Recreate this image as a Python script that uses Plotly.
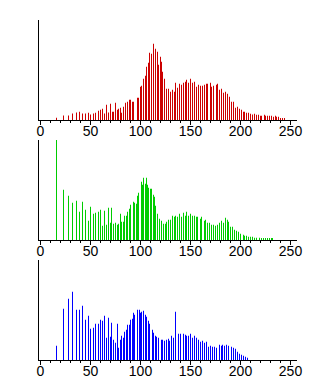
import plotly.graph_objects as go

red_x = [16, 23, 28, 32, 36, 39, 42, 45, 48, 50, 53, 55, 58, 60, 62, 64, 66, 68, 70, 72, 73, 75, 77, 78, 80, 81, 83,
         85, 87, 89, 90, 92, 93, 97, 98, 100, 101, 103, 105, 106, 108, 109, 111, 113, 115, 117, 118, 120, 121, 122, 124,
         126, 128, 130, 132, 134, 135, 137, 139, 141, 143, 145, 146, 148, 150, 152, 154, 156, 158, 160, 162, 164, 166,
         167, 170, 171, 173, 176, 177, 179, 181, 183, 185, 187, 189, 191, 193, 195, 197, 199, 201, 203, 204, 206, 208,
         210, 212, 214, 216, 218, 220, 221, 224, 225, 227, 229, 231, 233, 235, 236, 238, 240, 242, 244]
red_h = [2.3, 4.6, 4.6, 6.6, 7.6, 8.3, 6.6, 6.6, 7.3, 5.6, 6.6, 7.3, 9.3, 10.3, 11.3, 6.6, 15.3, 7.6, 16.3, 8.3, 8.3, 17.3, 10.3, 11.3, 12.3, 7.3, 13.3,
         17.3, 18.3, 20.3, 20.3, 18.3, 18.3, 22.3, 22.3, 33.3, 34.3, 41.3, 44.3, 53.3, 57.3, 67.3, 66.3, 76.3, 71.3, 68.3, 55.3, 63.3, 58.3, 48.3, 41.3,
         31.3, 31.3, 28.3, 30.3, 28.3, 37.3, 32.3, 36.3, 35.3, 37.3, 38.3, 40.3, 37.3, 41.3, 37.3, 38.3, 33.3, 35.3, 34.3, 34.3, 35.3, 36.3,
         36.3, 37.3, 33.3, 34.3, 35.3, 36.3, 30.3, 31.3, 27.3, 28.3, 26.3, 23.3, 18.3, 18.3, 12.3, 13.3, 11.3, 10.3, 8.3, 8.3, 7.3, 7.3,
         6.3, 5.6, 6.3, 5.3, 5.3, 4.3, 4.3, 5.3, 4.3, 4.3, 4.3, 4.3, 3.3, 4.3, 3.3, 3.3, 1.3, 1.3, 1.3]

green_x = [16, 23, 28, 32, 36, 39, 42, 45, 48, 50, 53, 55, 58, 60, 62, 64, 66, 68, 70, 71, 73, 75, 77, 78, 80, 81, 83,
           84, 86, 87, 89, 90, 93, 94, 96, 97, 98, 101, 102, 103, 105, 106, 107, 108, 110, 111, 113, 114, 115, 117, 119,
           121, 123, 125, 126, 128, 130, 132, 134, 135, 137, 139, 141, 143, 145, 146, 148, 150, 152, 154, 156, 157, 160,
           161, 164, 165, 167, 169, 171, 173, 175, 177, 179, 181, 183, 185, 187, 188, 190, 192, 194, 196, 198, 200, 203,
           204, 206, 208, 210, 212, 214, 216, 219, 221, 223, 225, 227, 229, 231, 232]
green_h = [100, 50.3, 44.3, 37.3, 39.3, 28.3, 38.3, 30.3, 19.3, 33.3, 26.3, 27.3, 28.3, 30.3, 14.3, 29.3, 15.3, 32.3, 17.3, 32.3, 16.3, 17.3, 15.3, 16.3, 26.3, 18.3, 18.3,
           24.3, 24.3, 28.3, 31.3, 35.3, 38.3, 37.3, 36.3, 44.3, 47.3, 58.3, 55.3, 62.3, 56.3, 62.3, 55.3, 52.3, 51.3, 51.3, 45.3, 43.3, 34.3, 26.3, 21.3,
           19.3, 16.3, 16.3, 18.3, 20.3, 20.3, 24.3, 23.3, 24.3, 23.3, 26.3, 23.3, 27.3, 24.3, 28.3, 24.3, 26.3, 24.3, 24.3, 23.3, 23.3, 21.3,
           23.3, 19.3, 20.3, 17.3, 17.3, 15.3, 15.3, 14.3, 15.3, 17.3, 19.3, 17.3, 22.3, 20.3, 18.3, 13.3, 13.3, 10.3, 9.3, 8.3, 6.3, 5.3,
           4.3, 4.3, 3.3, 3.3, 3.3, 2.3, 2.3, 2.3, 1.3, 1.3, 1.3, 1.3, 1.3, 1.3, 1.3]

blue_x = [16, 23, 28, 32, 36, 39, 42, 45, 48, 50, 53, 55, 58, 60, 62, 64, 66, 68, 70, 71, 73, 75, 77, 78, 80, 81, 83,
          84, 86, 87, 89, 90, 92, 93, 94, 97, 99, 100, 101, 103, 105, 106, 108, 109, 112, 113, 115, 116, 118, 121, 122,
          124, 126, 128, 129, 131, 133, 135, 138, 140, 143, 145, 146, 148, 150, 152, 154, 156, 158, 160, 162, 164, 166,
          168, 170, 172, 174, 176, 179, 181, 182, 184, 186, 188, 191, 193, 195, 197, 199, 201, 203, 205, 207]
blue_h = [14.3, 51.3, 61.3, 68.3, 50.3, 50.3, 54.3, 40.3, 44.3, 31.3, 32.3, 36.3, 36.3, 40.3, 39.3, 44.3, 22.3, 42.3, 23.3, 37.3, 20.3, 17.3, 36.3, 12.3, 20.3, 24.3, 22.3,
          28.3, 30.3, 35.3, 35.3, 40.3, 41.3, 47.3, 45.3, 50.3, 50.3, 47.3, 48.3, 49.3, 45.3, 43.3, 39.3, 36.3, 30.3, 27.3, 24.3, 23.3, 22.3, 20.3, 20.3,
          19.3, 20.3, 21.3, 19.3, 24.3, 22.3, 48.3, 26.3, 26.3, 26.3, 25.3, 24.3, 24.3, 26.3, 22.3, 24.3, 22.3, 20.3, 18.3, 19.3, 17.3, 18.3,
          13.3, 14.3, 13.3, 13.3, 12.3, 15.3, 14.3, 15.3, 14.3, 15.3, 14.3, 13.3, 12.3, 11.3, 8.3, 6.3, 5.3, 4.3, 3.3, 2.3]

tick_vals = [0, 50, 100, 150, 200, 250]
tick_text = ["0", "50", "100", "150", "200", "250"]

channels = [
    (red_x, red_h, "#cc0000"),
    (green_x, green_h, "#00cc00"),
    (blue_x, blue_h, "#0000ff"),
]

domains = [[0.70588, 1.0], [0.35294, 0.64706], [0.0, 0.29412]]

fig = go.Figure()
layout = dict(
    template="none",
    width=320, height=380,
    margin=dict(l=39, r=23, t=20, b=20, pad=0, autoexpand=False),
    paper_bgcolor="white", plot_bgcolor="white",
    showlegend=False,
    font=dict(family="Liberation Sans, Arial, sans-serif", size=14, color="black"),
)

for i, (xs, hs, col) in enumerate(channels):
    n = "" if i == 0 else str(i + 1)
    fig.add_trace(go.Bar(x=xs, y=hs, width=1, marker=dict(color=col, line=dict(width=0)),
                         xaxis="x" + n, yaxis="y" + n, hoverinfo="skip"))
    layout["xaxis" + n] = dict(
        domain=[0, 1], anchor="y" + n, range=[-1.5, 256.5],
        automargin=False,
        showline=True, linecolor="black", linewidth=1,
        showgrid=False, zeroline=False,
        tickmode="array", tickvals=tick_vals, ticktext=tick_text,
        ticks="outside", ticklen=4, tickwidth=1, tickcolor="black",
        ticklabelstandoff=-6,
        minor=dict(dtick=10, tick0=0, ticks="outside", ticklen=2, tickwidth=1, tickcolor="black", showgrid=False),
        tickfont=dict(size=14, color="black"),
        fixedrange=True,
    )
    layout["yaxis" + n] = dict(
        domain=domains[i], anchor="x" + n, range=[0, 100],
        automargin=False,
        showline=True, linecolor="black", linewidth=1,
        showgrid=False, zeroline=False, showticklabels=False, ticks="",
        fixedrange=True,
    )

fig.update_layout(**layout)
fig.write_html("out.html", config={"displayModeBar": False},
               post_script="document.body.style.margin='0';document.body.style.overflow='hidden';")
